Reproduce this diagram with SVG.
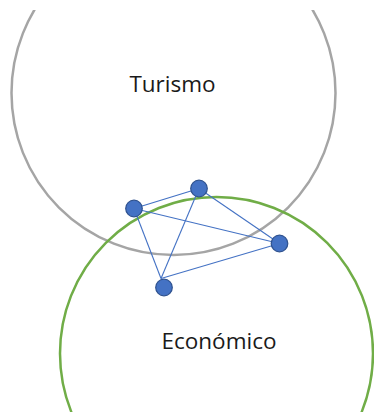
<svg xmlns="http://www.w3.org/2000/svg" width="374" height="412" viewBox="0 0 374 412">
<style>
.lbl{font-family:"Open Sans","Noto Sans","DejaVu Sans",sans-serif;font-size:22.5px;fill:#1a1a1a;text-anchor:middle}
.edge{stroke:#4472C4;stroke-width:1.1;fill:none}
.dot{fill:#4472C4;stroke:#2F528F;stroke-width:1.2}
</style>
<defs>
<clipPath id="frame"><rect x="0" y="10" width="374" height="402"/></clipPath>
</defs>
<rect width="374" height="412" fill="#ffffff"/>
<g clip-path="url(#frame)">
<g id="turismo">
<circle cx="173.5" cy="93" r="162" fill="none" stroke="#A5A5A5" stroke-width="2.5"/>
<text class="lbl" x="172.5" y="92">Turismo</text>
</g>
<g id="economico">
<circle cx="216.5" cy="353.5" r="156.5" fill="none" stroke="#70AD47" stroke-width="2.5"/>
<text class="lbl" x="219" y="349">Económico</text>
</g>
</g>
<g id="connectors">
<line class="edge" x1="134" y1="208.5" x2="199" y2="188.5"/>
<line class="edge" x1="134" y1="208.5" x2="279.5" y2="243.5"/>
<line class="edge" x1="134" y1="208.5" x2="161" y2="278.5"/>
<line class="edge" x1="199" y1="188.5" x2="279.5" y2="243.5"/>
<line class="edge" x1="199" y1="188.5" x2="161" y2="278.5"/>
<line class="edge" x1="279.5" y1="243.5" x2="161" y2="278.5"/>
</g>
<g id="node-a"><circle class="dot" cx="134" cy="208.5" r="8.3"/></g>
<g id="node-b"><circle class="dot" cx="199" cy="188.5" r="8.3"/></g>
<g id="node-c"><circle class="dot" cx="279.5" cy="243.5" r="8.3"/></g>
<g id="node-d"><circle class="dot" cx="164" cy="287.5" r="8.3"/></g>
</svg>
